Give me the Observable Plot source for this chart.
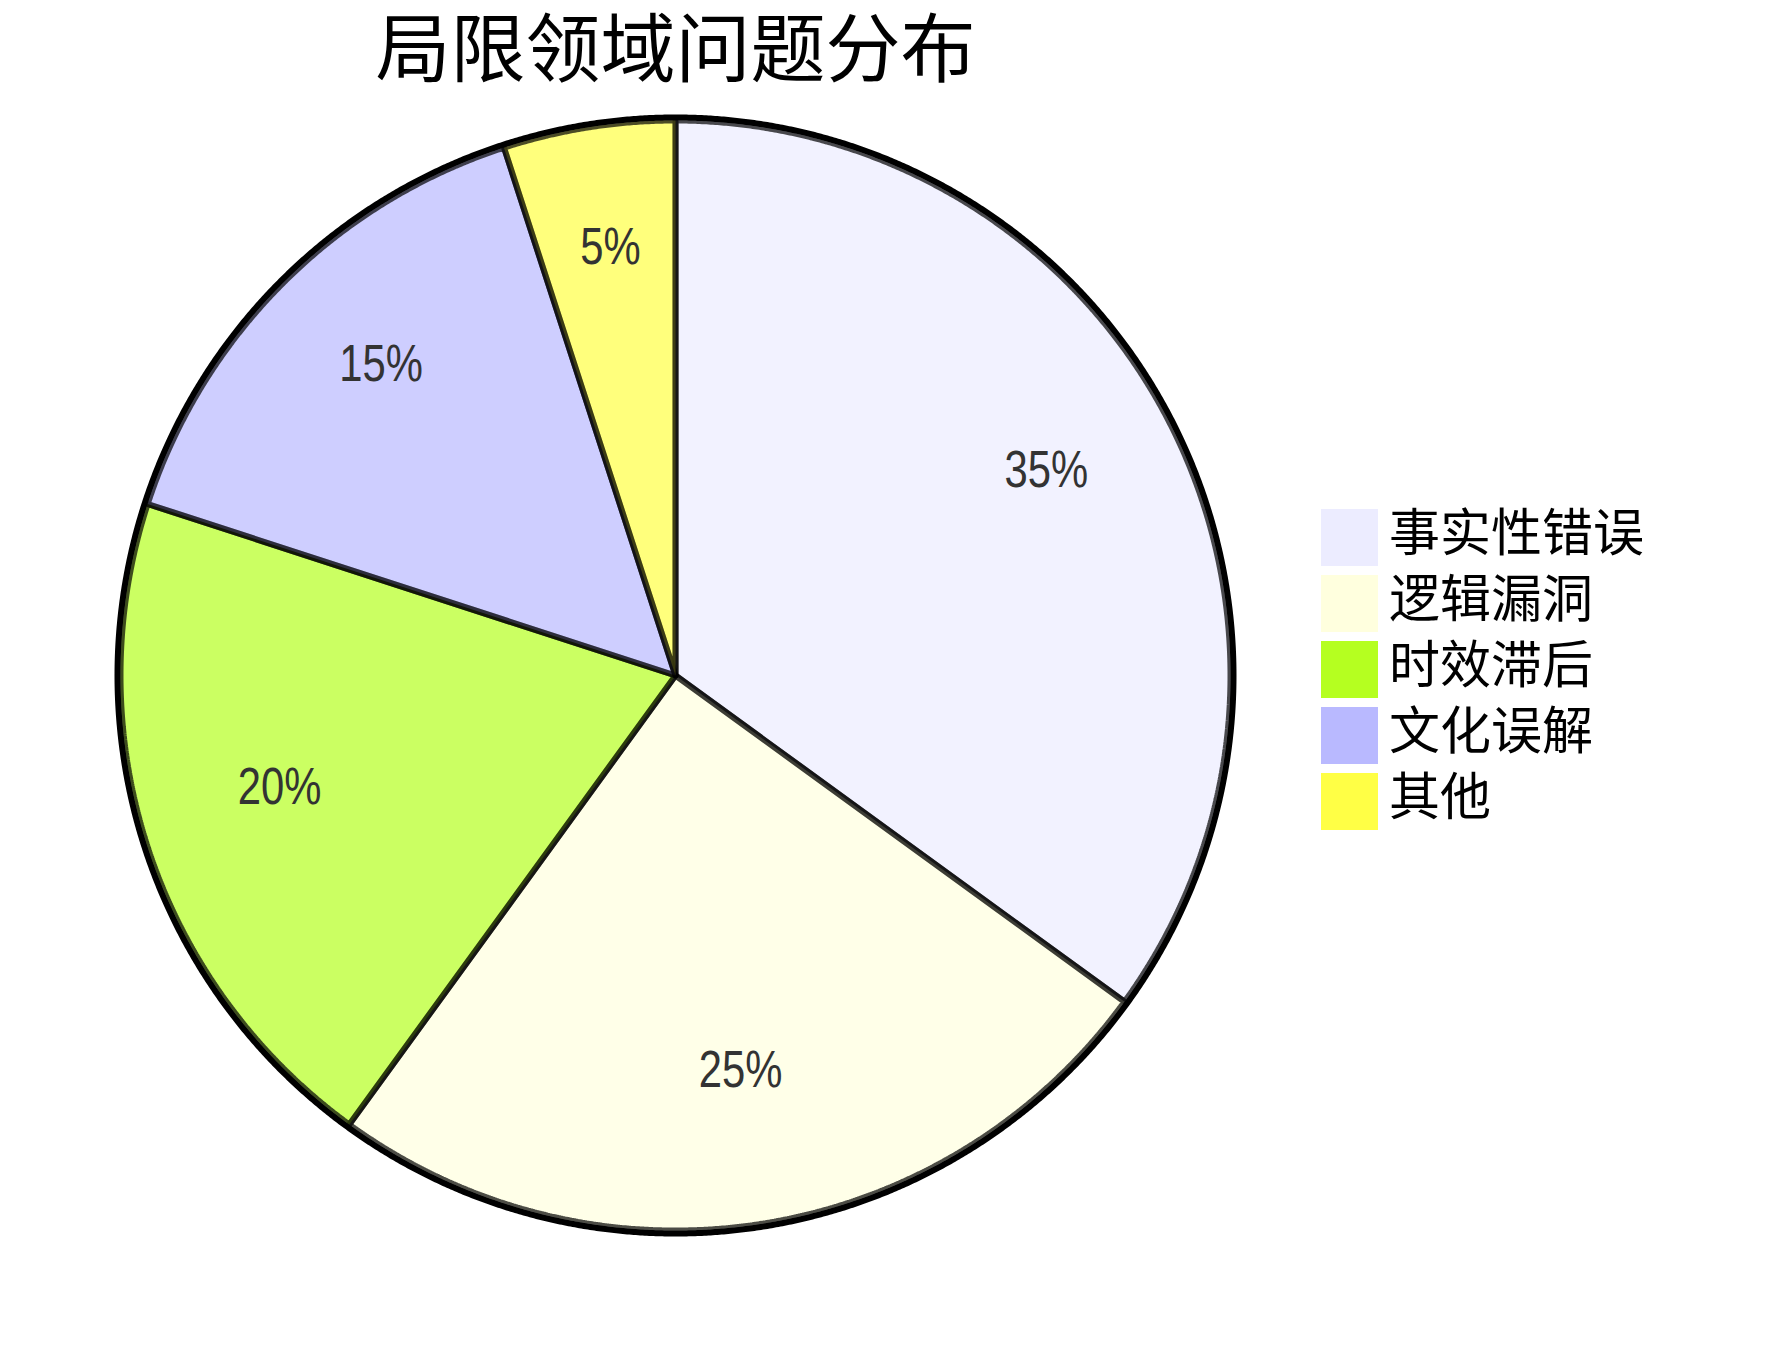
<!DOCTYPE html>
<html>
<head>
<meta charset="utf-8">
<script src="https://cdn.jsdelivr.net/npm/d3@7"></script>
<script src="https://cdn.jsdelivr.net/npm/@observablehq/plot@0.6"></script>
<style>
  html, body { margin: 0; padding: 0; background: #fff; }
  #wrap { position: relative; width: 1792px; height: 1350px; overflow: hidden; }
  #chart { position: absolute; left: 0; top: 0; }
  #legend { position: absolute; left: 1321px; top: 509px; font-family: "Noto Sans CJK SC", sans-serif; }
  .item { position: absolute; left: 0; height: 57px; }
  .sw { position: absolute; left: 0; top: 0; width: 57px; height: 57px; }
  .lab { position: absolute; left: 68px; top: -5px; font-size: 51px; line-height: 51px; color: #000; white-space: nowrap; }
</style>
</head>
<body>
<div id="wrap">
  <div id="chart"></div>
  <div id="legend"></div>
</div>
<script>
const title = "局限领域问题分布";
const categories = ["事实性错误", "逻辑漏洞", "时效滞后", "文化误解", "其他"];
const values = [35, 25, 20, 15, 5];
const colors = ["#ECECFF", "#FFFFDE", "#B5FF20", "#B9B9FF", "#FFFF45"];
const labels = ["35%", "25%", "20%", "15%", "5%"];

// layout (pixels)
const W = 1792, H = 1350;
const cx = 675, cy = 675, R = 555;
const outerR = 558 / 555; // outer ring radius in data units
const labelPos = 0.75;
const narrow = 0.82; // emulate a narrow sans face

const arcs = d3.pie().sort(null)(values);

// slice polygons in unit data space (angle 0 at top, clockwise)
const slicePts = [];
arcs.forEach((a, i) => {
  const cat = categories[i];
  slicePts.push({cat, x: 0, y: 0});
  const n = Math.max(2, Math.ceil((a.endAngle - a.startAngle) / 0.004));
  for (let k = 0; k <= n; k++) {
    const t = a.startAngle + (a.endAngle - a.startAngle) * k / n;
    slicePts.push({cat, x: Math.sin(t), y: Math.cos(t)});
  }
  slicePts.push({cat, x: 0, y: 0});
});

const ring = d3.range(0, 1601).map(k => {
  const t = 2 * Math.PI * k / 1600;
  return {x: outerR * Math.sin(t), y: outerR * Math.cos(t)};
});

const labelPts = arcs.map((a, i) => {
  const m = (a.startAngle + a.endAngle) / 2;
  return {text: labels[i], x: labelPos * Math.sin(m), y: labelPos * Math.cos(m)};
});

const chart = Plot.plot({
  width: W, height: H, margin: 0,
  style: {background: "#fff", fontFamily: "Noto Sans CJK SC"},
  x: {domain: [-1, 1], range: [cx - R, cx + R], axis: null},
  y: {domain: [-1, 1], range: [cy + R, cy - R], axis: null},
  color: {domain: categories, range: colors},
  marks: [
    Plot.line(ring, {x: "x", y: "y", stroke: "#000", strokeWidth: 6, fill: "none"}),
    Plot.line(slicePts, {
      x: "x", y: "y", z: "cat", fill: "cat",
      stroke: "#000", strokeWidth: 6,
      fillOpacity: 0.7, strokeOpacity: 0.7,
      strokeLinejoin: "miter", curve: "linear"
    }),
    Plot.text(labelPts, {
      x: "x", y: "y", text: "text", className: "pct",
      fill: "#333", fontSize: 51, fontFamily: "'Liberation Sans', Arial, sans-serif",
      textAnchor: "middle", lineAnchor: "bottom"
    }),
    Plot.text([title], {
      x: () => 0, text: d => d, frameAnchor: "top", dy: 75,
      lineAnchor: "bottom", textAnchor: "middle",
      fontSize: 75, fill: "#000", fontFamily: "Noto Sans CJK SC"
    })
  ]
});
document.getElementById("chart").appendChild(chart);

// horizontally condense the percentage labels around their anchor
chart.querySelectorAll(".pct text").forEach(t => {
  const tr = t.getAttribute("transform");
  if (tr) {
    t.setAttribute("transform", tr + ` scale(${narrow},1)`);
  } else {
    const x = +t.getAttribute("x") || 0, y = +t.getAttribute("y") || 0;
    t.removeAttribute("x"); t.removeAttribute("y");
    t.setAttribute("transform", `translate(${x},${y}) scale(${narrow},1)`);
  }
});

const legend = document.getElementById("legend");
categories.forEach((c, i) => {
  const item = document.createElement("div");
  item.className = "item";
  item.style.top = (66 * i) + "px";
  const sw = document.createElement("div");
  sw.className = "sw";
  sw.style.background = colors[i];
  const lab = document.createElement("div");
  lab.className = "lab";
  lab.textContent = c;
  item.appendChild(sw);
  item.appendChild(lab);
  legend.appendChild(item);
});
</script>
</body>
</html>
